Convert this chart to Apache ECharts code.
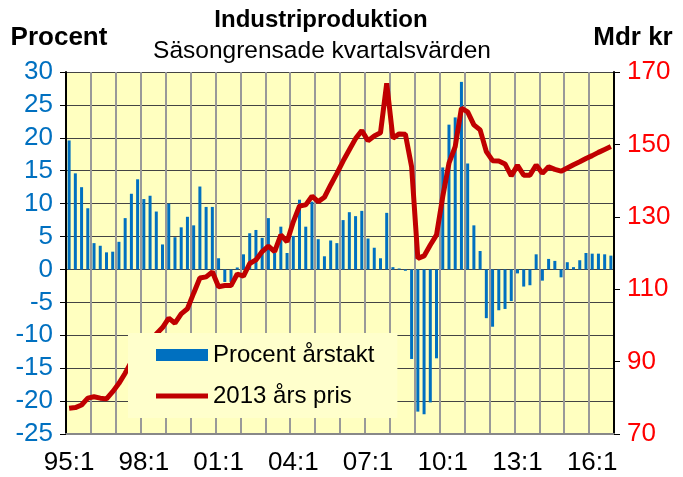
<!DOCTYPE html>
<html>
<head>
<meta charset="utf-8">
<script src="https://cdn.jsdelivr.net/npm/echarts@6/dist/echarts.min.js"></script>
<style>
  html, body { margin: 0; padding: 0; background: #fff; }
  #chart { width: 683px; height: 477px; }
</style>
</head>
<body>
<div id="chart"></div>
<script>
// kvartal 95:1 - 16:4
var years = ['95','96','97','98','99','00','01','02','03','04','05','06',
             '07','08','09','10','11','12','13','14','15','16'];
var quarters = [];
years.forEach(function (y) {
    for (var q = 1; q <= 4; q++) quarters.push(y + ':' + q);
});

// Procent årstakt (vänster axel)
var arstakt = [
    19.6, 14.6, 12.5, 9.3, 4.0, 3.6, 2.6, 2.7,
    4.2, 7.8, 11.5, 13.7, 10.7, 11.2, 8.8, 3.8,
    10.0, 4.9, 6.4, 8.0, 6.7, 12.6, 9.5, 9.5,
    1.7, -1.9, -1.9, 0.3, 2.3, 5.5, 6.0, 4.8,
    7.8, 2.5, 6.5, 2.5, 5.1, 10.6, 6.5, 10.3,
    4.6, 2.0, 4.4, 4.0, 7.5, 8.7, 8.1, 8.9,
    4.7, 3.3, 1.7, 8.6, 0.35, 0.15, -0.2, -13.6,
    -21.6, -22.0, -20.2, -13.5, 15.5, 22.0, 23.1, 28.5,
    16.1, 6.7, 2.8, -7.4, -8.7, -6.2, -6.0, -4.8,
    -0.6, -2.6, -2.4, 2.3, -1.7, 1.6, 1.3, -1.2,
    1.1, 0.35, 1.4, 2.5, 2.4, 2.4, 2.3, 2.1
];

// 2013 års pris, Mdr kr (höger axel)
var pris2013 = [
    77.1, 77.3, 78.0, 79.9, 80.3, 79.9, 79.7, 81.7,
    84.0, 86.8, 90.0, 92.5, 94.5, 96.0, 97.6, 99.4,
    102.0, 100.6, 103.2, 104.6, 108.9, 113.1, 113.4, 114.8,
    110.7, 111.0, 111.0, 114.2, 113.6, 117.1, 118.1, 120.4,
    121.9, 120.4, 125.0, 123.1, 128.6, 133.0, 133.3, 135.7,
    134.2, 135.4, 138.8, 142.0, 145.4, 148.5, 151.6, 153.8,
    151.0, 152.3, 153.2, 166.9, 151.7, 152.9, 152.8, 143.8,
    118.5, 119.2, 122.2, 125.0, 135.6, 144.8, 149.4, 160.0,
    159.0, 155.4, 154.0, 148.0, 145.5, 145.4, 144.6, 141.3,
    144.2, 141.5, 141.5, 144.3, 142.0, 143.8, 143.1, 142.6,
    143.5, 144.4, 145.2, 146.1, 146.9, 147.8, 148.6, 149.4
];

var font = '"Liberation Sans", Arial, sans-serif';
var chart = echarts.init(document.getElementById('chart'));

var option = {
    backgroundColor: '#ffffff',
    animation: false,
    textStyle: { fontFamily: font },
    graphic: [
        { type: 'text', x: 321, y: 20, style: { text: 'Industriproduktion', font: 'bold 24px ' + font, fill: '#000', textAlign: 'center', textVerticalAlign: 'middle' } },
        { type: 'text', x: 322, y: 51, style: { text: 'Säsongrensade kvartalsvärden', font: '24.5px ' + font, fill: '#000', textAlign: 'center', textVerticalAlign: 'middle' } },
        { type: 'text', x: 59, y: 38, style: { text: 'Procent', font: 'bold 26px ' + font, fill: '#000', textAlign: 'center', textVerticalAlign: 'middle' } },
        { type: 'text', x: 633, y: 38, style: { text: 'Mdr kr', font: 'bold 26px ' + font, fill: '#000', textAlign: 'center', textVerticalAlign: 'middle' } }
    ],
    legend: {
        orient: 'vertical',
        left: 128,
        top: 333,
        padding: [10, 23, 10, 28],
        itemGap: 17,
        itemWidth: 52,
        itemHeight: 12,
        backgroundColor: '#ffffcc',
        textStyle: { fontSize: 24, color: '#000', fontFamily: font },
        data: [
            { name: 'Procent årstakt', icon: 'rect' },
            { name: '2013 års pris', icon: 'path://M0,0 L52,0 L52,5 L0,5 Z' }
        ]
    },
    grid: {
        left: 66, right: 69, top: 72, bottom: 43,
        show: true, backgroundColor: '#ffffc0', borderWidth: 0
    },
    xAxis: {
        type: 'category',
        data: quarters,
        boundaryGap: true,
        axisLine: { onZero: false, lineStyle: { color: '#888', width: 2 } },
        axisTick: { show: false },
        axisLabel: {
            interval: function (idx) { return idx % 12 === 0; },
            fontSize: 26, color: '#000', margin: 16
        },
        splitLine: {
            show: true,
            interval: function (idx) { return idx % 4 === 0; },
            lineStyle: { color: '#999', width: 2 }
        }
    },
    yAxis: [
        {
            type: 'value', min: -25, max: 30, interval: 5,
            axisLine: { show: true, lineStyle: { color: '#000', width: 2 } },
            axisTick: { show: true, length: 6, lineStyle: { color: '#000' } },
            axisLabel: { fontSize: 26, color: '#0070c0', margin: 13 },
            splitLine: { show: true, lineStyle: { color: '#444', width: 1 } }
        },
        {
            type: 'value', min: 70, max: 170, interval: 20,
            axisLine: { show: true, lineStyle: { color: '#000', width: 2 } },
            axisTick: { show: true, length: 6, lineStyle: { color: '#000' } },
            axisLabel: { fontSize: 26, color: '#ff0000', margin: 13 },
            splitLine: { show: false }
        }
    ],
    series: [
        {
            name: 'Procent årstakt',
            type: 'bar',
            data: arstakt,
            barWidth: 3,
            itemStyle: { color: '#0070c0' }
        },
        {
            name: '2013 års pris',
            type: 'line',
            yAxisIndex: 1,
            data: pris2013,
            symbol: 'none',
            lineStyle: { color: '#c00000', width: 5 },
            itemStyle: { color: '#c00000' },
            z: 3
        }
    ]
};
option && chart.setOption(option);
</script>
</body>
</html>
